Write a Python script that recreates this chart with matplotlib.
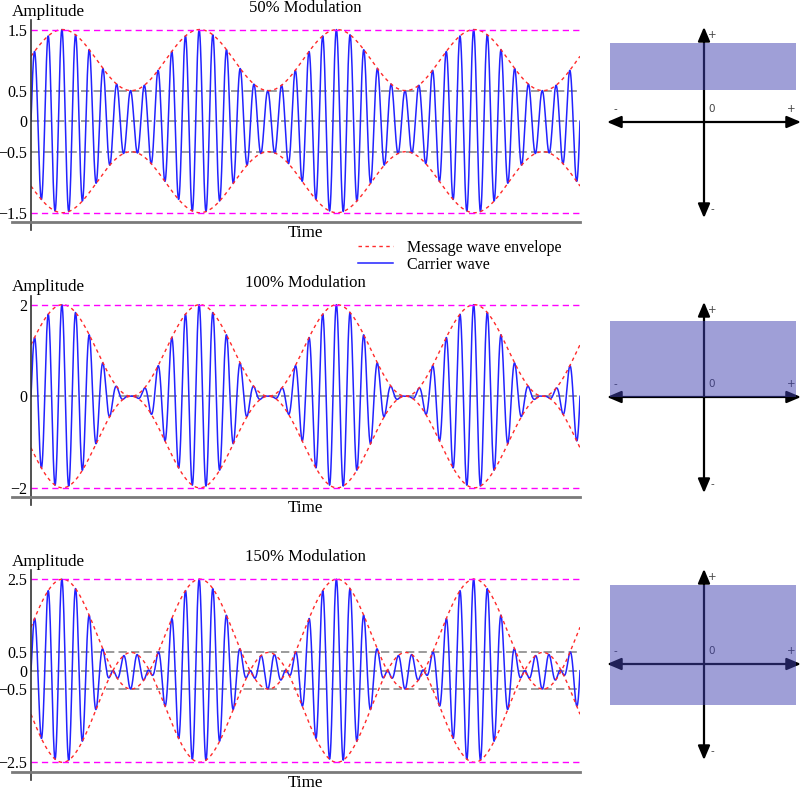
import numpy as np
import matplotlib.pyplot as plt
from matplotlib.patches import Rectangle

plt.rcParams['font.family'] = ['Liberation Serif', 'DejaVu Serif']
plt.rcParams['font.size'] = 12

# modulation settings for the three panels
mod_index = [0.5, 1.0, 1.5]
titles = ['50% Modulation', '100% Modulation', '150% Modulation']
y_ticks = [[1.5, 0.5, 0, -0.5, -1.5], [2, 0, -2], [2.5, 0.5, 0, -0.5, -2.5]]
y_tick_labels = [['1.5', '0.5', '0', '\u22120.5', '\u22121.5'],
                 ['2', '0', '\u22122'],
                 ['2.5', '0.5', '0', '\u22120.5', '\u22122.5']]
grey_levels = [[0.5, 0, -0.5], [0], [0.5, 0, -0.5]]
peak_levels = [[1.5, -1.5], [2, -2], [2.5, -2.5]]

# shaded range in the small diagrams (schematic units)
rect_left = [-0.96, -0.96, -0.96]
rect_right = [0.94, 0.94, 0.94]
rect_bottom = [0.33, 0.0, -0.42]
rect_top = [0.81, 0.78, 0.81]

n_periods = 4          # message periods shown
carrier_ratio = 10     # carrier cycles per message period
phase = 0.02           # message phase offset (periods)

t = np.linspace(0, n_periods, 6000)
carrier = np.sin(2 * np.pi * carrier_ratio * t)

W, H = 800, 790
fig = plt.figure(figsize=(W / 100, H / 100), dpi=100)

ax_top_px = [20.4, 295.5, 570.0]
ax_h_px = 201.5
ax_left_px, ax_w_px = 31, 549
diag_center_px = [122, 397, 664]
diag_half = 98

for i, m in enumerate(mod_index):
    ymax = peak_levels[i][0] * 1.1
    ax = fig.add_axes([ax_left_px / W, 1 - (ax_top_px[i] + ax_h_px) / H,
                       ax_w_px / W, ax_h_px / H])
    env = 1 + m * np.sin(2 * np.pi * (t + phase))
    signal = env * carrier

    for g in grey_levels[i]:
        ax.axhline(g, color='#8a8a8a', lw=1.2, dashes=(5, 2.5), zorder=1)
    env_line, = ax.plot(t, env, color='#ff2a2a', lw=1, dashes=(2.5, 2.5), zorder=3)
    ax.plot(t, -env, color='#ff2a2a', lw=1, dashes=(2.5, 2.5), zorder=3)
    car_line, = ax.plot(t, signal, color='#2222ff', lw=1.1, zorder=2)
    for p in peak_levels[i]:
        ax.axhline(p, color='#ff00ff', lw=1, dashes=(4.5, 3), zorder=4)

    ax.set_xlim(0, n_periods)
    ax.set_ylim(-ymax, ymax)
    for s in ax.spines.values():
        s.set_visible(False)
    ax.set_xticks([])
    ax.set_yticks(y_ticks[i])
    ax.set_yticklabels(y_tick_labels[i])
    ax.tick_params(axis='y', length=0, pad=2.5, labelsize=11.5)

    # frame lines in the original style
    ax.plot([0, 0], [-0.04, 1.0], transform=ax.transAxes, color='#333333',
            lw=1.2, clip_on=False, zorder=5)
    ax.plot([-0.035, 1.0], [0, 0], transform=ax.transAxes, color='#7a7a7a',
            lw=2, clip_on=False, zorder=5)

    ax.text(0.5, 1.064, titles[i], transform=ax.transAxes, ha='center', va='center',
            fontsize=12)
    ax.text(-0.035, 1.04, 'Amplitude', transform=ax.transAxes, ha='left', va='center',
            fontsize=12.3)
    ax.text(0.5, -0.057, 'Time', transform=ax.transAxes, ha='center', va='center',
            fontsize=12.3)

    if i == 0:
        fig.legend([env_line, car_line], ['Message wave envelope', 'Carrier wave'],
                   loc='upper left', bbox_to_anchor=(358 / W, 1 - 240 / H),
                   frameon=False, borderpad=0, borderaxespad=0, handlelength=2.2,
                   handletextpad=0.85, labelspacing=0.05, fontsize=11.5)

    # small diagram on the right
    cy = diag_center_px[i]
    dx = fig.add_axes([(704 - diag_half) / W, 1 - (cy + diag_half) / H,
                       2 * diag_half / W, 2 * diag_half / H])
    dx.set_xlim(-1, 1)
    dx.set_ylim(-1, 1)
    dx.axis('off')
    arrow = dict(arrowstyle='<|-|>,head_length=0.85,head_width=0.36', color='black',
                 lw=1.6, shrinkA=0, shrinkB=0, mutation_scale=10)
    dx.annotate('', xy=(0.99, 0), xytext=(-0.99, 0), arrowprops=arrow)
    dx.annotate('', xy=(0, 0.97), xytext=(0, -0.98), arrowprops=arrow)
    dx.add_patch(Rectangle((rect_left[i], rect_bottom[i]), rect_right[i] - rect_left[i],
                           rect_top[i] - rect_bottom[i], color='#4040b0', alpha=0.5,
                           lw=0, zorder=5))
    lab = dict(fontsize=7.5, color='#444444', family='DejaVu Sans', ha='center', va='center')
    dx.text(0.085, 0.89, '+', **lab)
    dx.text(0.085, -0.89, '-', **lab)
    dx.text(-0.9, 0.13, '-', **lab)
    dx.text(0.89, 0.13, '+', **lab)
    dx.text(0.075, 0.13, '0', **lab)

fig.savefig('out.png', dpi=100)
